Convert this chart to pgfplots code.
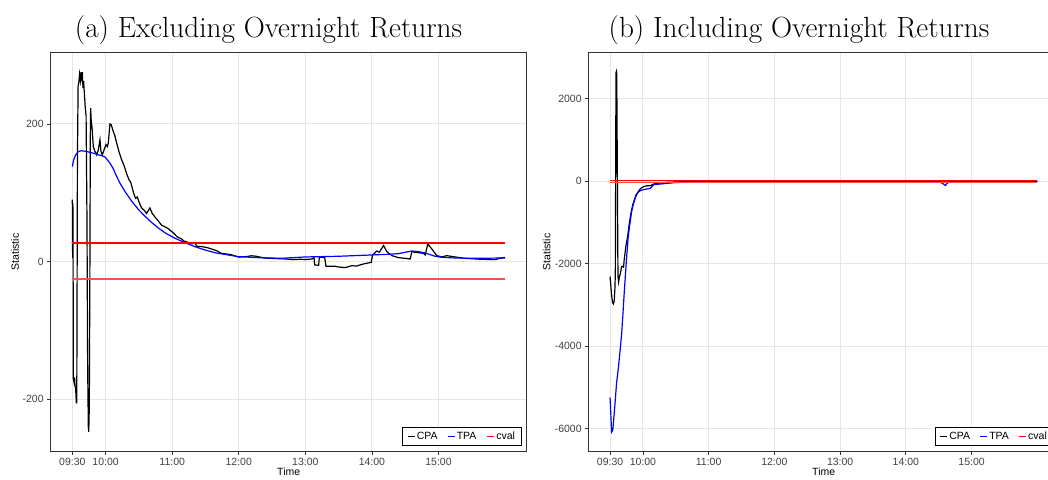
\documentclass[border=0pt]{standalone}
\usepackage{fontspec}
\usepackage{pgfplots}
\pgfplotsset{compat=1.18}
\newfontfamily\axisfont{Liberation Sans}
\definecolor{gridgray}{HTML}{E6E6E6}
\definecolor{bordergray}{HTML}{333333}
\definecolor{ticktext}{HTML}{404040}
\definecolor{cvalred}{HTML}{FF0000}
\definecolor{cvalred2}{HTML}{FF5050}

\pgfplotsset{
  panel/.style={
    scale only axis,
    height=398pt,
    xmin=-19.5, xmax=409.5,
    xtick={0,30,90,150,210,270,330},
    xticklabels={09:30,10:00,11:00,12:00,13:00,14:00,15:00},
    tick pos=left,
    tick align=outside,
    major tick length=3.5pt,
    every tick/.style={bordergray, line width=0.8pt},
    axis line style={bordergray, line width=1pt},
    grid=major,
    major grid style={gridgray, line width=1.1pt},
    tick label style={font=\axisfont\fontsize{10.5}{12}\selectfont, text=ticktext},
    label style={font=\axisfont\fontsize{10.5}{12}\selectfont, text=black},
    xlabel=Time, ylabel=Statistic,
    xlabel style={at={(axis description cs:0.5,-0.053)}, anchor=center},
    legend columns=3,
    legend style={draw=black, line width=0.8pt, font=\axisfont\fontsize{10.5}{12}\selectfont,
      anchor=south east, inner xsep=4.5pt, inner ysep=3.5pt,
      nodes={inner xsep=1.5pt, inner ysep=1pt},
      /tikz/every even column/.append style={column sep=8pt}},
    legend image code/.code={\draw[#1] (0pt,0pt) -- (7pt,0pt);},
  }
}

\begin{document}
\begin{tikzpicture}

\node[anchor=base, font=\fontsize{29.2}{33}\selectfont] at (268.5pt,441pt) {(a) Excluding Overnight Returns};
\node[anchor=base, font=\fontsize{29.2}{33}\selectfont] at (799pt,441pt) {(b) Including Overnight Returns};

% ---------------- Left panel ----------------
\begin{axis}[panel, at={(50.7pt,28pt)}, anchor=south west,
  width=476pt,
  ymin=-275, ymax=303,
  ytick={-200,0,200}, yticklabels={-200,0,200},
  ylabel style={at={(axis description cs:-0.075,0.5)}, anchor=center},
  legend style={at={(axis description cs:0.9887,0.0126)}},
]
\addplot[black, line width=1.2pt] coordinates {
(0,90) (0.15,15) (0.3,85) (0.45,5) (0.6,80) (0.9,-170) (1.5,-175) (2.0,-168) (2.4,-180) (3.0,-185) (3.6,-205) (4.0,-205)
(4.6,150) (5.2,255) (5.8,260) (6.5,272) (7.2,263) (7.8,275) (8.4,262) (9.0,275) (9.6,252) (10.2,262) (10.8,245)
(11.6,225) (12.4,212) (13.2,60) (13.8,-150) (14.4,-240) (14.8,-247) (15.3,-210) (15.8,-20) (16.2,180) (16.5,223)
(17.0,205) (17.7,196) (18.9,167) (20.4,160) (21.9,155) (23.4,162) (24.9,177) (25.8,160) (27.0,155) (28.5,162)
(30.3,170) (31.5,167) (32.4,172) (33.9,200) (35.0,199) (36.9,189) (38.1,184) (40.0,172) (42.0,160) (44.4,148)
(46.5,140) (48.9,128) (51.3,118) (52.5,116) (55.5,98) (57,92) (58.5,94) (60,87) (62.4,78) (64.5,75) (66.9,70)
(69.9,78) (72,70) (74.4,65) (77,60) (80.4,53) (83,51) (86.4,48) (88.5,45) (90.9,42) (94.5,36) (98.4,33)
(100.5,30) (104.4,28) (108,26) (110.4,27) (112.5,22) (116.4,22) (122.4,20) (126,18) (129.9,16) (134.4,12)
(139.5,11) (143.4,10) (150,6.5) (157.5,7.5) (161.4,8.5) (165,8) (169.5,6.5) (175.5,5) (183,4.5) (190.5,4)
(199.5,3) (205.5,3.5) (210,3) (216,3.9) (217.8,5.8) (218.4,-4.8) (222,-5.3) (222.6,6.3) (227.4,6.3) (228.6,-6.8)
(237,-6.8) (240,-7.8) (246,-8.7) (252,-5.8) (256,-6.5) (261,-3.9) (269.4,-1) (270.6,9.7) (274.5,15.5)
(276.6,13.6) (280.5,23.3) (283.5,14.5) (288,8.7) (294,5.8) (300,4.8) (304.5,3.9) (306,14.5) (309,13.6)
(312,13) (316.5,12) (318,9.7) (320.4,25.7) (324,18.4) (328.5,8.7) (333,6.8) (337.5,8.7) (345,6.8) (354,4.8)
(369,3.4) (381,2.9) (387.6,5.8) (390,6)
};
\addplot[blue, line width=1.2pt] coordinates {
(0,138) (1.2,148) (3,155) (5.4,160) (8.4,161) (12.9,160) (17.4,158) (20.4,157) (23.4,155) (26.4,154)
(29.4,152) (31.5,148) (33.9,143) (36.9,135) (38.4,129) (42.9,114) (47.4,102) (53.4,88) (59.4,76) (65.4,66)
(71.4,57) (77.4,49) (83.4,42) (92.4,34) (101.4,27.6) (110.4,21.8) (119.4,17) (128.4,13) (140.4,9.7)
(149.4,7.3) (161.4,6.3) (173.4,5.3) (190,5) (210,6.8) (240,7.8) (270,9.7) (285,10.7) (294,11.6) (306,15.5)
(312,14.5) (318,12.6) (327,7.8) (333,6.3) (345,5.3) (363,4.8) (390,5.3)
};
\addplot[draw=cvalred, line width=1.8pt] coordinates {(0,26.5) (195,26.5) (390,26.5)};
\addplot[draw=cvalred2, line width=1.8pt, forget plot] coordinates {(0,-25.5) (195,-25.5) (390,-25.5)};
\legend{CPA,TPA,cval}
\end{axis}

% ---------------- Right panel ----------------
\begin{axis}[panel, at={(588.7pt,28pt)}, anchor=south west,
  width=470pt,
  ymin=-6539, ymax=3112,
  ytick={-6000,-4000,-2000,0,2000}, yticklabels={-6000,-4000,-2000,0,2000},
  ylabel style={at={(axis description cs:-0.0894,0.5)}, anchor=center},
  legend style={at={(axis description cs:0.9885,0.0126)}},
]
\addplot[black, line width=1.2pt] coordinates {
(0,-2308) (1.25,-2712) (2.2,-2939) (3,-2972) (3.8,-2900) (4.4,-2600) (4.8,-2250) (5.4,2640) (5.8,2670)
(6.1,2600) (7.2,-2300) (7.8,-2440) (8.6,-2300) (9.3,-2250) (10.5,-2070) (11.5,-2060) (12.3,-2081)
(12.9,-1903) (14.4,-1579) (16,-1336) (17.6,-1012) (19.1,-769) (20.7,-567) (22.25,-445) (23.8,-324)
(25.4,-267) (26.9,-202) (28.5,-162) (30.6,-130) (33.75,-105) (36.9,-105) (38.4,-81) (41.6,-49) (46.25,-40)
(52.5,-24) (68,-8) (90,-2) (150,3) (220,-3) (280,5) (320,8) (390,3)
};
\addplot[blue, line width=1.2pt] coordinates {
(0,-5239) (0.6,-5600) (1.4,-6080) (2.5,-6030) (4.3,-5465) (5.9,-4899) (7.7,-4494) (9.5,-4008) (10.6,-3684)
(11.8,-3198) (12.9,-2712) (14.1,-2227) (15.4,-1741) (16.6,-1336) (18.2,-1012) (19.7,-729) (21.5,-526)
(23.5,-364) (25.5,-267) (28,-219) (30.6,-202) (33.75,-186) (36.9,-170) (38.4,-121) (40,-81) (43,-73)
(49,-57) (58.75,-32) (71,-16) (84,-8) (120,-2) (200,0) (300,0) (304,-60) (306,-100) (308,-40) (312,0) (390,0)
};
\addplot[draw=cvalred, line width=1.3pt] coordinates {(0,24) (195,24) (390,24)};
\addplot[draw=cvalred2, line width=1.5pt, forget plot] coordinates {(0,-24) (195,-24) (390,-24)};
\legend{CPA,TPA,cval}
\end{axis}

\pgfresetboundingbox
\useasboundingbox (0pt,0pt) rectangle (1048pt,479pt);
\end{tikzpicture}
\end{document}
